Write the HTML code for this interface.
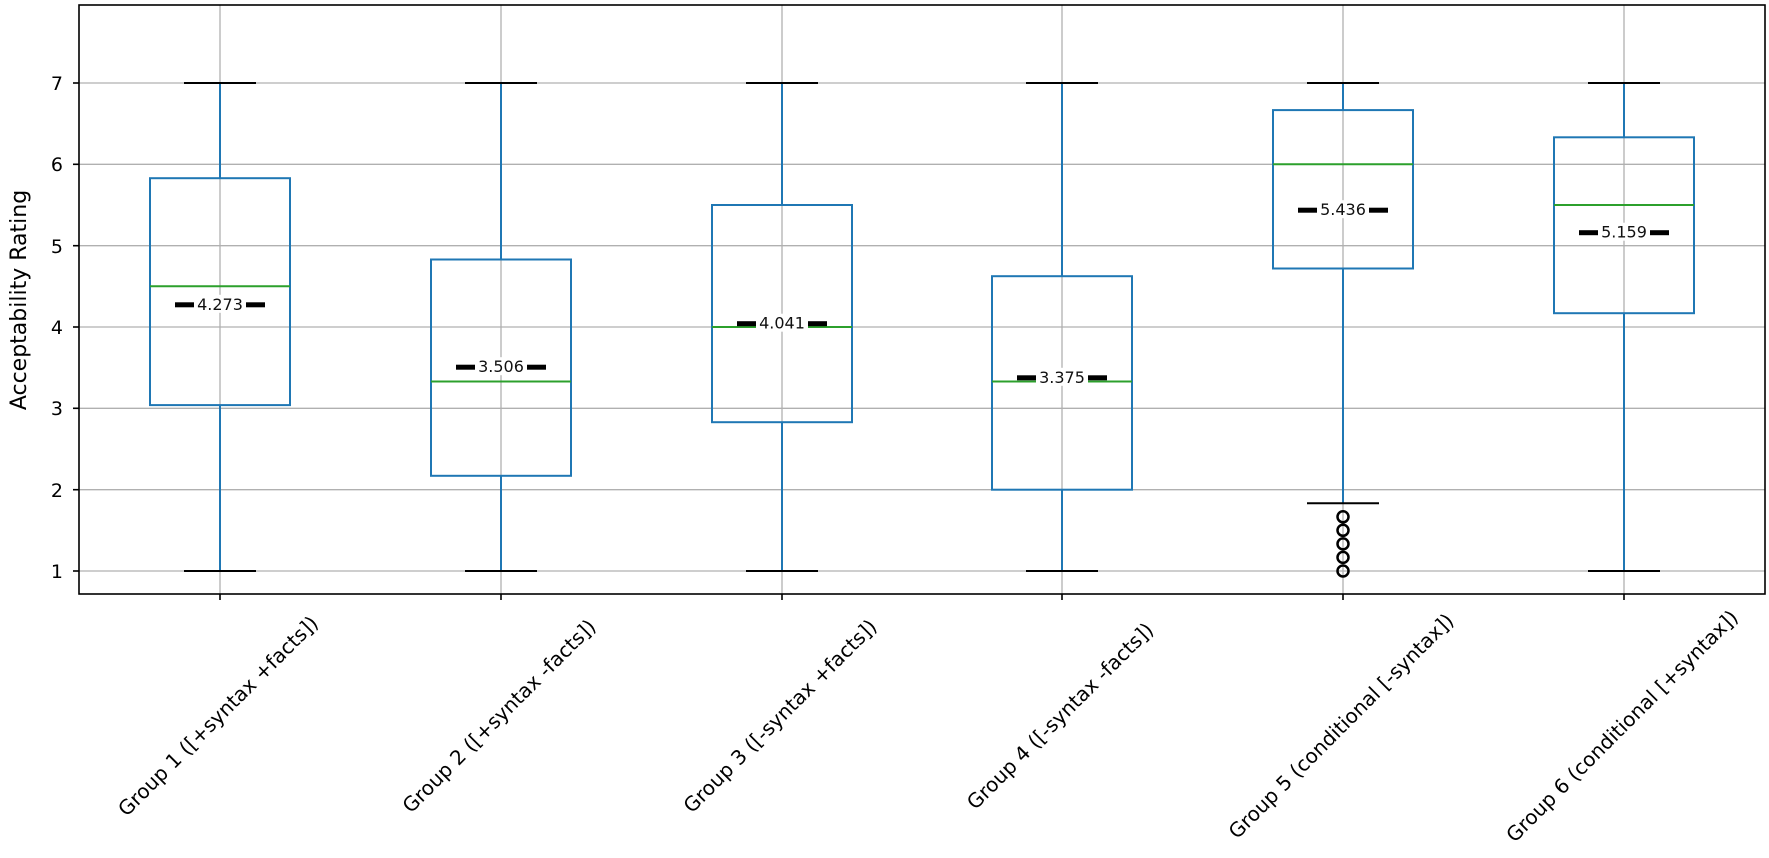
<!DOCTYPE html>
<html><head><meta charset="utf-8"><style>html,body{margin:0;padding:0;background:#fff}svg{display:block}</style></head>
<body>
<svg width="1769" height="858" xmlns="http://www.w3.org/2000/svg" font-family="DejaVu Sans, Liberation Sans, sans-serif">
<rect width="1769" height="858" fill="#fff"/>
<g stroke="#b0b0b0" stroke-width="1.3">
<line x1="79" x2="1765" y1="571" y2="571"/><line x1="79" x2="1765" y1="489.7" y2="489.7"/><line x1="79" x2="1765" y1="408.3" y2="408.3"/><line x1="79" x2="1765" y1="327" y2="327"/><line x1="79" x2="1765" y1="245.7" y2="245.7"/><line x1="79" x2="1765" y1="164.3" y2="164.3"/><line x1="79" x2="1765" y1="83" y2="83"/>
<line x1="220" x2="220" y1="5" y2="594"/><line x1="501" x2="501" y1="5" y2="594"/><line x1="782" x2="782" y1="5" y2="594"/><line x1="1062" x2="1062" y1="5" y2="594"/><line x1="1343" x2="1343" y1="5" y2="594"/><line x1="1624" x2="1624" y1="5" y2="594"/>
</g>
<g fill="none" stroke-width="2">
<g stroke="#1f77b4"><line x1="220" x2="220" y1="83" y2="178.2"/><line x1="220" x2="220" y1="405.1" y2="571"/><rect x="150" y="178.2" width="140" height="226.9"/></g>
<g stroke="#000"><line x1="184" x2="256" y1="83" y2="83"/><line x1="184" x2="256" y1="571" y2="571"/></g>
<line x1="150" x2="290" y1="286.3" y2="286.3" stroke="#2ca02c"/>
<g stroke="#1f77b4"><line x1="501" x2="501" y1="83" y2="259.5"/><line x1="501" x2="501" y1="475.8" y2="571"/><rect x="431" y="259.5" width="140" height="216.3"/></g>
<g stroke="#000"><line x1="465" x2="537" y1="83" y2="83"/><line x1="465" x2="537" y1="571" y2="571"/></g>
<line x1="431" x2="571" y1="381.5" y2="381.5" stroke="#2ca02c"/>
<g stroke="#1f77b4"><line x1="782" x2="782" y1="83" y2="205"/><line x1="782" x2="782" y1="422.2" y2="571"/><rect x="712" y="205" width="140" height="217.2"/></g>
<g stroke="#000"><line x1="746" x2="818" y1="83" y2="83"/><line x1="746" x2="818" y1="571" y2="571"/></g>
<line x1="712" x2="852" y1="327" y2="327" stroke="#2ca02c"/>
<g stroke="#1f77b4"><line x1="1062" x2="1062" y1="83" y2="276.2"/><line x1="1062" x2="1062" y1="489.7" y2="571"/><rect x="992" y="276.2" width="140" height="213.5"/></g>
<g stroke="#000"><line x1="1026" x2="1098" y1="83" y2="83"/><line x1="1026" x2="1098" y1="571" y2="571"/></g>
<line x1="992" x2="1132" y1="381.5" y2="381.5" stroke="#2ca02c"/>
<g stroke="#1f77b4"><line x1="1343" x2="1343" y1="83" y2="110.1"/><line x1="1343" x2="1343" y1="268.5" y2="503.3"/><rect x="1273" y="110.1" width="140" height="158.4"/></g>
<g stroke="#000"><line x1="1307" x2="1379" y1="83" y2="83"/><line x1="1307" x2="1379" y1="503.3" y2="503.3"/></g>
<line x1="1273" x2="1413" y1="164.3" y2="164.3" stroke="#2ca02c"/>
<g stroke="#000" stroke-width="2.5"><circle cx="1343" cy="571" r="5.5"/><circle cx="1343" cy="557.4" r="5.5"/><circle cx="1343" cy="543.9" r="5.5"/><circle cx="1343" cy="530.3" r="5.5"/><circle cx="1343" cy="516.8" r="5.5"/></g>
<g stroke="#1f77b4"><line x1="1624" x2="1624" y1="83" y2="137.3"/><line x1="1624" x2="1624" y1="313.2" y2="571"/><rect x="1554" y="137.3" width="140" height="175.9"/></g>
<g stroke="#000"><line x1="1588" x2="1660" y1="83" y2="83"/><line x1="1588" x2="1660" y1="571" y2="571"/></g>
<line x1="1554" x2="1694" y1="205" y2="205" stroke="#2ca02c"/>
</g>
<g font-size="16" text-anchor="middle" fill="#111">
<rect x="175" y="302.3" width="90" height="5" fill="#000"/><rect x="194" y="294.8" width="52" height="18" fill="#fff"/><text x="220" y="309.8">4.273</text>
<rect x="456" y="364.7" width="90" height="5" fill="#000"/><rect x="475" y="357.2" width="52" height="18" fill="#fff"/><text x="501" y="372.2">3.506</text>
<rect x="737" y="321.2" width="90" height="5" fill="#000"/><rect x="756" y="313.7" width="52" height="18" fill="#fff"/><text x="782" y="328.7">4.041</text>
<rect x="1017" y="375.3" width="90" height="5" fill="#000"/><rect x="1036" y="367.8" width="52" height="18" fill="#fff"/><text x="1062" y="382.8">3.375</text>
<rect x="1298" y="207.7" width="90" height="5" fill="#000"/><rect x="1317" y="200.2" width="52" height="18" fill="#fff"/><text x="1343" y="215.2">5.436</text>
<rect x="1579" y="230.2" width="90" height="5" fill="#000"/><rect x="1598" y="222.7" width="52" height="18" fill="#fff"/><text x="1624" y="237.7">5.159</text>
</g>
<rect x="79" y="5" width="1686" height="589" fill="none" stroke="#000" stroke-width="1.6"/>
<g font-size="19" fill="#000" text-anchor="end">
<text x="63" y="578">1</text><text x="63" y="497">2</text><text x="63" y="415">3</text><text x="63" y="334">4</text><text x="63" y="253">5</text><text x="63" y="171">6</text><text x="63" y="90">7</text>
</g>
<g stroke="#000" stroke-width="1.6">
<line x1="73" x2="79" y1="571" y2="571"/><line x1="73" x2="79" y1="489.7" y2="489.7"/><line x1="73" x2="79" y1="408.3" y2="408.3"/><line x1="73" x2="79" y1="327" y2="327"/><line x1="73" x2="79" y1="245.7" y2="245.7"/><line x1="73" x2="79" y1="164.3" y2="164.3"/><line x1="73" x2="79" y1="83" y2="83"/>
<line x1="220" x2="220" y1="594" y2="600"/><line x1="501" x2="501" y1="594" y2="600"/><line x1="782" x2="782" y1="594" y2="600"/><line x1="1062" x2="1062" y1="594" y2="600"/><line x1="1343" x2="1343" y1="594" y2="600"/><line x1="1624" x2="1624" y1="594" y2="600"/>
</g>
<text transform="translate(26,300) rotate(-90)" font-size="22" text-anchor="middle">Acceptability Rating</text>
<g font-size="20" text-anchor="middle" dominant-baseline="central">
<text transform="translate(218,716) rotate(-45)">Group 1 ([+syntax +facts])</text>
<text transform="translate(499,716) rotate(-45)">Group 2 ([+syntax -facts])</text>
<text transform="translate(780,716) rotate(-45)">Group 3 ([-syntax +facts])</text>
<text transform="translate(1060,716) rotate(-45)">Group 4 ([-syntax -facts])</text>
<text transform="translate(1341,726) rotate(-45)">Group 5 (conditional [-syntax])</text>
<text transform="translate(1622,726) rotate(-45)">Group 6 (conditional [+syntax])</text>
</g>
</svg>
</body></html>
